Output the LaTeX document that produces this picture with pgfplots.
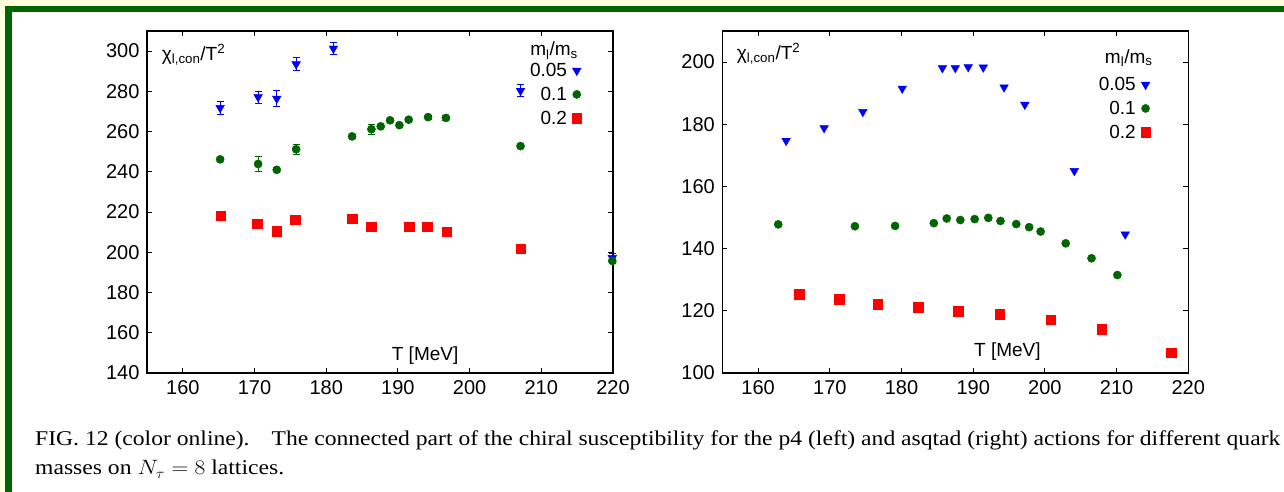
\documentclass[border=0pt]{standalone}
\usepackage{pgfplots}
\pgfplotsset{compat=1.18}
\usepackage{graphicx}
\usepackage{fontspec}
\setmainfont{Liberation Serif}
\newfontfamily\hv{Liberation Sans}

\definecolor{bgyellow}{RGB}{255,255,221}
\definecolor{framegreen}{RGB}{0,100,0}
\definecolor{dgreen}{RGB}{0,100,0}
\definecolor{pblue}{RGB}{0,0,255}
\definecolor{pred}{RGB}{255,0,0}

\pgfplotsset{
  chiax/.style={
    scale only axis, width=466pt, height=342pt, anchor=south west,
    xmin=155, xmax=220, xtick={160,170,...,220},
    tick align=inside, tick pos=both,
    major tick length=5pt,
    axis line style={line width=1.2pt, black},
    tick style={line width=0.9pt, black},
    /pgf/number format/assume math mode=true,
    ticklabel style={font=\hv\fontsize{20}{20}\selectfont},
    yticklabel style={xshift=-4pt},
    xticklabel style={yshift=-4pt},
    clip=false,
    legend style={draw=none, fill=none, font=\hv\fontsize{19}{19}\selectfont,
      anchor=north east, row sep=5pt, column sep=3pt, inner sep=0pt},
    legend cell align=right,
    legend plot pos=right,
  },
  s05/.style={only marks, color=pblue, mark=triangle*, mark size=5pt,
    mark options={rotate=180, draw=none, fill=pblue}},
  s10/.style={only marks, color=dgreen, mark=*, mark size=4.1pt,
    mark options={draw=none, fill=dgreen}},
  s20/.style={only marks, color=pred, mark=square*, mark size=4.8pt,
    mark options={draw=none, fill=pred}},
  eb/.style={error bars/.cd, y dir=both, y explicit,
    error bar style={line width=0.8pt, color=#1},
    error mark options={rotate=90, mark size=3.5pt, line width=0.8pt, color=#1}},
}

% p4 action (left)
\pgfplotstableread{
T     chi    err
165.2 271.8  3.4
170.5 277.2  3.0
173.1 276.4  4.0
175.8 293.5  3.3
181.0 301.3  2.8
207.1 280.3  3.0
219.9 197.2  2.0
}\pfourA
\pgfplotstableread{
T     chi    err
165.2 246.2  1.0
170.5 243.9  3.8
173.1 241.0  1.0
175.8 251.2  2.5
183.6 257.6  1.0
186.3 261.2  2.5
187.6 262.6  1.0
188.9 265.6  1.0
190.2 263.2  1.0
191.5 265.9  1.0
194.2 267.2  1.0
196.7 266.8  1.0
207.1 252.8  1.0
219.9 195.7  1.0
}\pfourB
\pgfplotstableread{
T     chi
165.3 218.1
170.4 214.3
173.1 210.6
175.7 216.2
183.6 216.6
186.3 212.8
191.6 212.8
194.1 212.8
196.8 210.3
207.1 201.8
}\pfourC

% asqtad action (right)
\pgfplotstableread{
T     chi
163.9 174.7
169.2 178.8
174.6 184.0
180.1 191.5
185.7 198.1
187.5 198.1
189.3 198.4
191.4 198.3
194.3 191.9
197.2 186.3
204.1 165.0
211.2 144.6
}\asqA
\pgfplotstableread{
T     chi
162.8 147.8
173.5 147.2
179.1 147.3
184.5 148.2
186.3 149.7
188.2 149.2
190.2 149.5
192.1 149.9
193.8 148.9
196.0 147.9
197.8 146.9
199.4 145.5
202.9 141.7
206.5 136.9
210.1 131.5
}\asqB
\pgfplotstableread{
T     chi
165.7 125.3
171.3 123.7
176.7 122.1
182.3 121.2
187.9 119.9
193.7 118.9
200.8 117.2
207.9 114.0
217.6 106.5
}\asqC

\newcommand\capfont{\fontsize{21}{24}\selectfont}
\newcommand\capone{FIG. 12 (color online).\hspace{0.6em} The connected part of the chiral susceptibility for the p4 (left) and asqtad (right) actions for different quark}
\newcommand\captwo{masses on $N_\tau = 8$ lattices.}
\newsavebox\capboxA
\newsavebox\capboxB
\newlength\capwB

\begin{document}
\sbox\capboxA{\capfont\capone}%
\sbox\capboxB{\capfont\captwo}%
\setlength\capwB{\dimexpr \wd\capboxB * 81592320 / \wd\capboxA\relax}%
\begin{tikzpicture}[x=1pt,y=1pt]
  % page background and frame
  \fill[bgyellow] (0,0) rectangle (1284,492);
  \fill[framegreen] (4.8,0) rectangle (1284,486);
  \fill[white] (12.4,0) rectangle (1284,480.3);

  % left panel: p4
  \begin{axis}[chiax, at={(147pt,119pt)},
      ymin=140, ymax=310, ytick={140,160,...,300},
      legend style={at={(axis description cs:0.933,0.912)}}]
    \addplot[s05, eb=pblue] table[x=T, y=chi, y error=err] {\pfourA};
    \addlegendentry{0.05}
    \addplot[s10, eb=dgreen] table[x=T, y=chi, y error=err] {\pfourB};
    \addlegendentry{0.1}
    \addplot[s20] table[x=T, y=chi] {\pfourC};
    \addlegendentry{0.2}
    \node[anchor=base west, inner sep=0pt, font=\hv\fontsize{19}{19}\selectfont]
      at (axis description cs:0.0315,0.915) {χ\textsubscript{l,con}/T\textsuperscript{2}};
    \node[anchor=base west, inner sep=0pt, font=\hv\fontsize{19}{19}\selectfont]
      at (axis description cs:0.525,0.038) {T [MeV]};
    \node[anchor=base east, inner sep=0pt, font=\hv\fontsize{19}{19}\selectfont]
      at (axis description cs:0.925,0.927) {m\textsubscript{l}/m\textsubscript{s}};
  \end{axis}

  % right panel: asqtad
  \begin{axis}[chiax, at={(722.3pt,119pt)},
      ymin=100, ymax=210, ytick={100,120,...,200},
      legend style={at={(axis description cs:0.919,0.871)}}]
    \addplot[s05] table[x=T, y=chi] {\asqA};
    \addlegendentry{0.05}
    \addplot[s10] table[x=T, y=chi] {\asqB};
    \addlegendentry{0.1}
    \addplot[s20] table[x=T, y=chi] {\asqC};
    \addlegendentry{0.2}
    \node[anchor=base west, inner sep=0pt, font=\hv\fontsize{19}{19}\selectfont]
      at (axis description cs:0.031,0.918) {χ\textsubscript{l,con}/T\textsuperscript{2}};
    \node[anchor=base west, inner sep=0pt, font=\hv\fontsize{19}{19}\selectfont]
      at (axis description cs:0.540,0.048) {T [MeV]};
    \node[anchor=base east, inner sep=0pt, font=\hv\fontsize{19}{19}\selectfont]
      at (axis description cs:0.9236,0.9056) {m\textsubscript{l}/m\textsubscript{s}};
  \end{axis}

  % caption
  \node[anchor=base west, inner sep=0pt] at (35,46) {\resizebox{1245pt}{\height}{\usebox\capboxA}};
  \node[anchor=base west, inner sep=0pt] at (35,17) {\resizebox{\capwB}{\height}{\usebox\capboxB}};
\end{tikzpicture}
\end{document}
